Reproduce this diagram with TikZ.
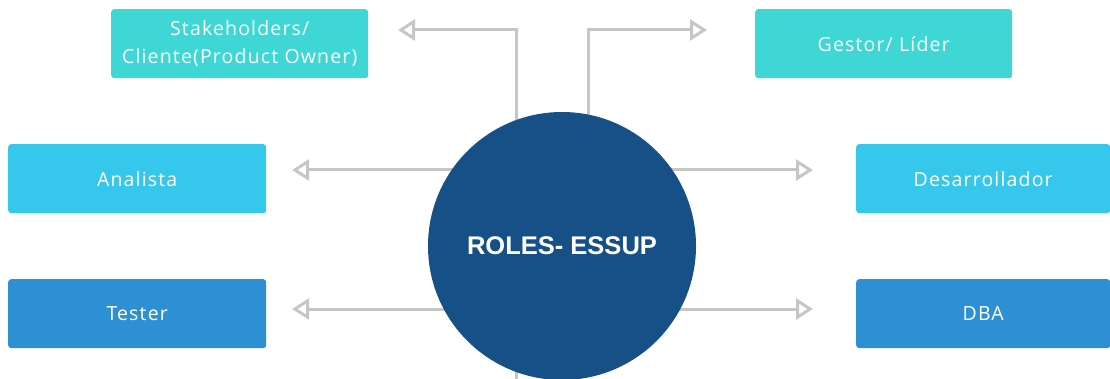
\documentclass[tikz,border=0pt]{standalone}
\usepackage{fontspec}
\setmainfont{Open Sans}
\newfontfamily\lblfont[LetterSpace=6]{Open Sans}
\newfontfamily\boldfont{Liberation Sans Bold}
\usetikzlibrary{arrows.meta,backgrounds}
\definecolor{turq}{HTML}{3FD7D5}
\definecolor{lblue}{HTML}{36C7EC}
\definecolor{mblue}{HTML}{2D8FD4}
\definecolor{dblue}{HTML}{165086}
\definecolor{conng}{HTML}{C6C6C6}
\tikzset{
  rolebox/.style={rounded corners=3pt, minimum height=69pt, inner sep=0pt,
    text=white, font=\lblfont\fontsize{19.5}{28}\selectfont, align=center},
  conn/.style={draw=conng, line width=3pt,
    -{Triangle[open, length=17pt, width=21pt, line width=3pt]}},
  plainconn/.style={draw=conng, line width=3pt}
}
\begin{document}
\begin{tikzpicture}[x=1pt,y=-1pt]
\useasboundingbox (0,0) rectangle (1110,379);
% boxes
\node[rolebox, fill=turq, minimum width=257pt, anchor=north west] (stk) at (111,9) {Stakeholders/\\Cliente(Product Owner)};
\node[rolebox, fill=turq, minimum width=257pt, anchor=north west] (ges) at (755,9) {Gestor/ L\'ider};
\node[rolebox, fill=lblue, minimum width=258pt, anchor=north west] (ana) at (8,144) {Analista};
\node[rolebox, fill=mblue, minimum width=258pt, anchor=north west] (tes) at (8,279) {Tester};
\node[rolebox, fill=lblue, minimum width=254pt, anchor=north west] (des) at (856,144) {Desarrollador};
\node[rolebox, fill=mblue, minimum width=254pt, anchor=north west] (dba) at (856,279) {DBA};
% circle
\node[circle, fill=dblue, minimum size=268pt, inner sep=0pt, text=white,
  font=\boldfont\fontsize{25.5}{30}\selectfont] (c) at (562,246) {ROLES- ESSUP};
% connector end points
\coordinate (stkT) at (398,30);
\coordinate (stkV) at (516,30);
\coordinate (gesT) at (707,30);
\coordinate (gesV) at (588,30);
\coordinate (anaT) at (292,170);
\coordinate (tesT) at (292,309);
\coordinate (desT) at (813,170);
\coordinate (dbaT) at (813,309);
\coordinate (botE) at (516,379);
\begin{scope}[on background layer]
\draw[conn] (c.center -| stkV) -- (stkV) -- (stkT);
\draw[conn] (c.center -| gesV) -- (gesV) -- (gesT);
\draw[conn] (c.center |- anaT) -- (anaT);
\draw[conn] (c.center |- tesT) -- (tesT);
\draw[conn] (c.center |- desT) -- (desT);
\draw[conn] (c.center |- dbaT) -- (dbaT);
\draw[plainconn] (c.center -| botE) -- (botE);
\end{scope}
\end{tikzpicture}
\end{document}
